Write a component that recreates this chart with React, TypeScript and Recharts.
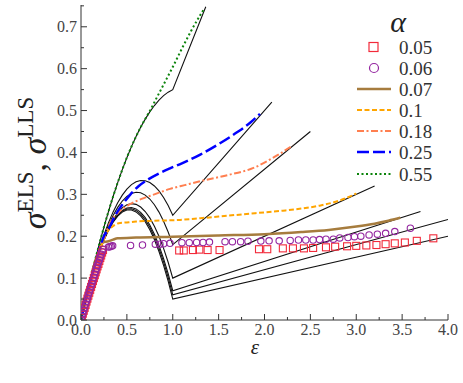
import { ComposedChart, Line, Scatter, XAxis, YAxis } from 'recharts'

const W = 463
const H = 383
const SERIF = "'Liberation Serif', 'DejaVu Serif', serif"
const INK = '#333'

const xTicks = [0, 0.25, 0.5, 0.75, 1, 1.25, 1.5, 1.75, 2, 2.25, 2.5, 2.75, 3, 3.25, 3.5, 3.75, 4]
const yTicks = [0, 0.05, 0.1, 0.15, 0.2, 0.25, 0.3, 0.35, 0.4, 0.45, 0.5, 0.55, 0.6, 0.65, 0.7, 0.75]

// LLS curves (black): sampled on eps 0..1, then the straight tail end
const llsEps = [0, 0.05, 0.1, 0.15, 0.2, 0.25, 0.3, 0.35, 0.4, 0.45, 0.5, 0.55, 0.6, 0.65, 0.7, 0.75, 0.8, 0.85, 0.9, 0.95, 1]
const lls005 = [0, 0.0476, 0.0905, 0.1286, 0.162, 0.1906, 0.2145, 0.2336, 0.248, 0.2576, 0.2625, 0.2626, 0.258, 0.2486, 0.2345, 0.2156, 0.192, 0.1636, 0.1305, 0.0926, 0.05]
const lls006 = [0, 0.0477, 0.0906, 0.1289, 0.1624, 0.1913, 0.2154, 0.2349, 0.2496, 0.2597, 0.265, 0.2657, 0.2616, 0.2529, 0.2394, 0.2213, 0.1984, 0.1709, 0.1386, 0.1017, 0.06]
const lls007 = [0, 0.0477, 0.0907, 0.1291, 0.1628, 0.1919, 0.2163, 0.2361, 0.2512, 0.2617, 0.2675, 0.2687, 0.2652, 0.2571, 0.2443, 0.2269, 0.2048, 0.1781, 0.1467, 0.1107, 0.07]
const lls010 = [0, 0.0478, 0.091, 0.1298, 0.164, 0.1938, 0.219, 0.2398, 0.256, 0.2678, 0.275, 0.2778, 0.276, 0.2698, 0.259, 0.2438, 0.224, 0.1998, 0.171, 0.1378, 0.1]
const lls018 = [0, 0.048, 0.0918, 0.1316, 0.1672, 0.1988, 0.2262, 0.2496, 0.2688, 0.284, 0.295, 0.302, 0.3048, 0.3036, 0.2982, 0.2888, 0.2752, 0.2576, 0.2358, 0.21, 0.18]
const lls025 = [0, 0.0481, 0.0925, 0.1331, 0.17, 0.2031, 0.2325, 0.2581, 0.28, 0.2981, 0.3125, 0.3231, 0.33, 0.3331, 0.3325, 0.3281, 0.32, 0.3081, 0.2925, 0.2731, 0.25]
const lls055 = [0, 0.0489, 0.0955, 0.1399, 0.182, 0.2219, 0.2595, 0.2949, 0.328, 0.3589, 0.3875, 0.4139, 0.438, 0.4599, 0.4795, 0.4969, 0.512, 0.5249, 0.5355, 0.5439, 0.55]
const llsCurves = [lls005, lls006, lls007, lls010, lls018, lls025, lls055]
const llsTailEps = [4.0, 4.0, 3.7, 3.2, 2.5, 2.08, 1.36]
const llsTailVal = [0.2, 0.24, 0.259, 0.32, 0.45, 0.52, 0.748]

// ELS results for each alpha
const els007X = [0, 0.05, 0.1, 0.15, 0.2, 0.24, 0.3, 0.35, 0.4, 0.6, 1.0, 1.5, 2.0, 2.4, 2.7, 3.0, 3.2, 3.35, 3.48]
const els007Y = [0, 0.048, 0.09, 0.129, 0.162, 0.186, 0.188, 0.192, 0.195, 0.197, 0.199, 0.202, 0.205, 0.21, 0.215, 0.223, 0.23, 0.237, 0.244]
const els010X = [0, 0.05, 0.1, 0.15, 0.2, 0.25, 0.28, 0.32, 0.36, 0.41, 0.5, 0.6, 0.8, 1.08, 1.3, 1.6, 1.9, 2.2, 2.4, 2.6, 2.8, 2.9, 3.0]
const els010Y = [0, 0.048, 0.091, 0.13, 0.164, 0.192, 0.208, 0.219, 0.226, 0.231, 0.233, 0.235, 0.237, 0.239, 0.243, 0.249, 0.255, 0.261, 0.266, 0.273, 0.284, 0.292, 0.302]
const els018X = [0, 0.05, 0.1, 0.15, 0.2, 0.25, 0.29, 0.33, 0.4, 0.5, 0.66, 0.8, 0.97, 1.13, 1.33, 1.6, 1.88, 2.1, 2.31]
const els018Y = [0, 0.048, 0.092, 0.132, 0.166, 0.195, 0.218, 0.237, 0.255, 0.272, 0.289, 0.3, 0.313, 0.322, 0.333, 0.346, 0.363, 0.388, 0.417]
const els025X = [0, 0.05, 0.1, 0.15, 0.2, 0.25, 0.3, 0.35, 0.41, 0.48, 0.55, 0.63, 0.72, 0.85, 0.97, 1.1, 1.3, 1.5, 1.7, 1.85, 1.95]
const els025Y = [0, 0.048, 0.092, 0.133, 0.17, 0.2, 0.217, 0.24, 0.263, 0.284, 0.303, 0.32, 0.334, 0.35, 0.362, 0.374, 0.395, 0.42, 0.448, 0.472, 0.492]
const els055X = [0, 0.05, 0.1, 0.15, 0.2, 0.25, 0.3, 0.35, 0.4, 0.45, 0.5, 0.55, 0.6, 0.65, 0.7, 0.75, 0.8, 0.85, 0.9, 0.95, 1.0, 1.1, 1.2, 1.3, 1.34]
const els055Y = [0, 0.049, 0.0955, 0.14, 0.182, 0.222, 0.2595, 0.295, 0.328, 0.359, 0.388, 0.414, 0.438, 0.46, 0.48, 0.499, 0.52, 0.541, 0.562, 0.583, 0.604, 0.648, 0.69, 0.728, 0.742]

const sq005X = [0, 0.01, 0.02, 0.03, 0.04, 0.05, 0.06, 0.07, 0.08, 0.09, 0.1, 0.11, 0.12, 0.13, 0.14, 0.15, 0.16, 0.17, 0.18, 0.19, 0.2, 0.21, 0.22, 0.23, 0.24,
  1.07, 1.12, 1.22, 1.29, 1.38, 1.51, 1.94, 2.03, 2.2, 2.31, 2.43, 2.53, 2.67, 2.77, 2.9, 3.0, 3.11, 3.22, 3.32, 3.42, 3.53, 3.66, 3.84]
const sq005Y = [0, 0.007, 0.015, 0.022, 0.029, 0.036, 0.044, 0.051, 0.058, 0.065, 0.072, 0.079, 0.086, 0.093, 0.1, 0.107, 0.114, 0.121, 0.128, 0.134, 0.141, 0.148, 0.154, 0.161, 0.167,
  0.166, 0.166, 0.167, 0.168, 0.167, 0.167, 0.169, 0.169, 0.171, 0.171, 0.171, 0.172, 0.1735, 0.175, 0.176, 0.177, 0.178, 0.179, 0.181, 0.183, 0.185, 0.189, 0.195]
const ci006X = [0, 0.01, 0.02, 0.03, 0.04, 0.05, 0.06, 0.07, 0.08, 0.09, 0.1, 0.11, 0.12, 0.13, 0.14, 0.15, 0.16, 0.17, 0.18, 0.19, 0.2, 0.21, 0.22, 0.23, 0.24,
  0.3, 0.315, 0.33, 0.345, 0.54, 0.67, 0.81, 0.86, 0.9, 0.97, 1.1, 1.18, 1.26, 1.33, 1.4, 1.57, 1.65, 1.74, 1.82, 1.96, 2.05, 2.16, 2.28, 2.37,
  2.45, 2.53, 2.6, 2.67, 2.75, 2.82, 2.91, 2.98, 3.05, 3.14, 3.23, 3.32, 3.42, 3.59]
const ci006Y = [0, 0.008, 0.015, 0.023, 0.03, 0.038, 0.045, 0.052, 0.06, 0.067, 0.074, 0.081, 0.088, 0.095, 0.102, 0.109, 0.116, 0.123, 0.13, 0.137, 0.143, 0.15, 0.157, 0.163, 0.169,
  0.174, 0.175, 0.176, 0.177, 0.178, 0.179, 0.181, 0.181, 0.182, 0.183, 0.1845, 0.1845, 0.185, 0.185, 0.186, 0.187, 0.187, 0.187, 0.188, 0.1885, 0.189, 0.189, 0.19, 0.191,
  0.191, 0.191, 0.192, 0.193, 0.193, 0.196, 0.197, 0.199, 0.2, 0.203, 0.205, 0.207, 0.211, 0.219]

const alphaLabels = ['0.05', '0.06', '0.07', '0.1', '0.18', '0.25', '0.55']

const C = {
  sq: '#f22a3a',
  ci: '#9426a0',
  brown: '#a67c3e',
  orange: '#ffa500',
  coral: '#ff7f50',
  blue: '#0000ff',
  green: '#0b840b',
}

const zip = (xs: number[], ys: number[]) => xs.map((x, i) => ({ x, y: ys[i] }))

const llsData = llsCurves.map((ys, k) => [...zip(llsEps, ys), { x: llsTailEps[k], y: llsTailVal[k] }])

const isMajor = (v: number, step: number) => Math.abs(v / step - Math.round(v / step)) < 1e-6

const tickText = { fontFamily: SERIF, fontSize: 16, fill: '#444' }

function BottomTick(props: any) {
  const { x, y, payload } = props
  const major = isMajor(payload.value, 0.5)
  return (
    <g>
      <line x1={x} x2={x} y1={y} y2={y - (major ? 6 : 3)} stroke={INK} />
      {major && (
        <text x={x} y={y + 15} textAnchor="middle" style={tickText}>
          {payload.value.toFixed(1)}
        </text>
      )}
    </g>
  )
}

function TopTick(props: any) {
  const { x, y, payload } = props
  const major = isMajor(payload.value, 0.5)
  return <line x1={x} x2={x} y1={y} y2={y + (major ? 6 : 3)} stroke={INK} />
}

function LeftTick(props: any) {
  const { x, y, payload } = props
  const major = isMajor(payload.value, 0.1)
  return (
    <g>
      <line x1={x} x2={x + (major ? 6 : 3)} y1={y} y2={y} stroke={INK} />
      {major && (
        <text x={x - 4} y={y + 5.5} textAnchor="end" style={tickText}>
          {payload.value.toFixed(1)}
        </text>
      )}
    </g>
  )
}

function RightTick(props: any) {
  const { x, y, payload } = props
  const major = isMajor(payload.value, 0.1)
  return <line x1={x} x2={x - (major ? 6 : 3)} y1={y} y2={y} stroke={INK} />
}

const SquareDot = (p: any) => (
  <rect x={p.cx - 3.5} y={p.cy - 3.5} width={7} height={7} fill="none" stroke={C.sq} strokeWidth={1.1} />
)
const CircleDot = (p: any) => <circle cx={p.cx} cy={p.cy} r={3.2} fill="none" stroke={C.ci} strokeWidth={1.1} />

const legendRows = [
  { kind: 'sq' },
  { kind: 'ci' },
  { kind: 'line', color: C.brown, dash: undefined, width: 2.5 },
  { kind: 'line', color: C.orange, dash: '5 2.5', width: 2 },
  { kind: 'line', color: C.coral, dash: '7 2.5 2 2.5', width: 2 },
  { kind: 'line', color: C.blue, dash: '12 4', width: 2.5 },
  { kind: 'line', color: C.green, dash: '2 2.5', width: 2 },
]
const legendY = [47, 68, 89, 110, 131, 152, 174]

export default function App() {
  return (
    <div style={{ position: 'absolute', left: 0, top: 0, width: W, height: H, background: '#fff' }}>
      <ComposedChart width={W} height={H} margin={{ top: 5, right: 15, bottom: 0, left: 0 }}>
        <XAxis
          dataKey="x" type="number" domain={[0, 4]} ticks={xTicks} interval={0} allowDataOverflow
          height={63} tickSize={0} tickMargin={0} tickLine={false} tick={<BottomTick />}
          axisLine={{ stroke: INK }}
        />
        <XAxis
          xAxisId="top" orientation="top" dataKey="x" type="number" domain={[0, 4]} ticks={xTicks} interval={0}
          allowDataOverflow height={0} tickSize={0} tickMargin={0} tickLine={false} tick={<TopTick />}
          axisLine={{ stroke: INK }}
        />
        <YAxis
          dataKey="y" type="number" domain={[0, 0.752]} ticks={yTicks} interval={0} allowDataOverflow
          width={81} tickSize={0} tickMargin={0} tickLine={false} tick={<LeftTick />}
          axisLine={{ stroke: INK }}
        />
        <YAxis
          yAxisId="right" orientation="right" dataKey="y" type="number" domain={[0, 0.752]} ticks={yTicks}
          interval={0} allowDataOverflow width={0} tickSize={0} tickMargin={0} tickLine={false}
          tick={<RightTick />} axisLine={{ stroke: INK }}
        />

        <Scatter data={zip(sq005X, sq005Y)} dataKey="y" shape={SquareDot} isAnimationActive={false} />
        <Scatter data={zip(ci006X, ci006Y)} dataKey="y" shape={CircleDot} isAnimationActive={false} />

        {llsData.map((d, k) => (
          <Line
            key={'lls' + k} data={d} dataKey="y" type="linear" stroke="#111" strokeWidth={1.1}
            dot={false} activeDot={false} isAnimationActive={false}
          />
        ))}

        <Line data={zip(els007X, els007Y)} dataKey="y" type="monotone" stroke={C.brown} strokeWidth={2.5}
          dot={false} activeDot={false} isAnimationActive={false} />
        <Line data={zip(els010X, els010Y)} dataKey="y" type="monotone" stroke={C.orange} strokeWidth={2}
          strokeDasharray="5 2.5" dot={false} activeDot={false} isAnimationActive={false} />
        <Line data={zip(els018X, els018Y)} dataKey="y" type="monotone" stroke={C.coral} strokeWidth={2}
          strokeDasharray="7 2.5 2 2.5" dot={false} activeDot={false} isAnimationActive={false} />
        <Line data={zip(els025X, els025Y)} dataKey="y" type="monotone" stroke={C.blue} strokeWidth={2.5}
          strokeDasharray="12 4" dot={false} activeDot={false} isAnimationActive={false} />
        <Line data={zip(els055X, els055Y)} dataKey="y" type="monotone" stroke={C.green} strokeWidth={2}
          strokeDasharray="2 2.5" dot={false} activeDot={false} isAnimationActive={false} />
      </ComposedChart>

      <svg width={W} height={H} style={{ position: 'absolute', left: 0, top: 0, pointerEvents: 'none', fontFamily: SERIF }}>
        <text transform="translate(46,163) rotate(-90)" textAnchor="middle" style={{ fontFamily: SERIF }} fill="#222">
          <tspan fontStyle="italic" fontSize={34}>σ</tspan>
          <tspan fontSize={23} dy={-13}>ELS</tspan>
          <tspan fontSize={34} dy={13}>, </tspan>
          <tspan fontStyle="italic" fontSize={34}>σ</tspan>
          <tspan fontSize={23} dy={-13}>LLS</tspan>
        </text>
        <text x={255} y={354} textAnchor="middle" style={{ fontFamily: SERIF, fontStyle: 'italic', fontSize: 21 }} fill="#222">
          ε
        </text>

        <text x={398} y={32} textAnchor="middle" style={{ fontFamily: SERIF, fontStyle: 'italic', fontSize: 30 }} fill="#222">
          α
        </text>
        {legendRows.map((r, i) => {
          const cy = legendY[i]
          return (
            <g key={i}>
              {r.kind === 'sq' && (
                <rect x={369} y={cy - 4.5} width={9} height={9} fill="none" stroke={C.sq} strokeWidth={1.2} />
              )}
              {r.kind === 'ci' && <circle cx={374} cy={cy} r={4.5} fill="none" stroke={C.ci} strokeWidth={1.2} />}
              {r.kind === 'line' && (
                <line x1={357} x2={391} y1={cy} y2={cy} stroke={r.color} strokeWidth={r.width}
                  strokeDasharray={r.dash} />
              )}
              <text x={399} y={cy + 6.5} style={{ fontFamily: SERIF, fontSize: 19 }} fill={INK}>
                {alphaLabels[i]}
              </text>
            </g>
          )
        })}
      </svg>
    </div>
  )
}
